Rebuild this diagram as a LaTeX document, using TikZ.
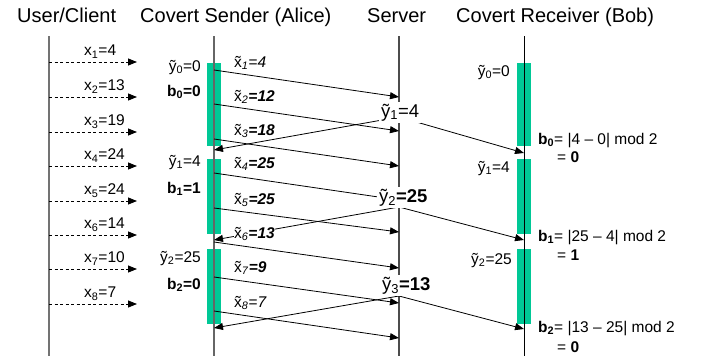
\documentclass[tikz,border=0pt]{standalone}
\usepackage{fontspec}
\setmainfont{Liberation Sans}
\usetikzlibrary{arrows.meta}
\definecolor{blockgreen}{RGB}{0,200,150}

\begin{document}
\begin{tikzpicture}[x=1pt, y=-1pt,
  life/.style={draw=black!60, line width=1.6pt},
  blk/.style={fill=blockgreen, draw=none},
  msg/.style={-{Triangle[length=9pt, width=7pt]}, line width=0.8pt},
  req/.style={msg, dash pattern=on 3pt off 2.5pt},
  t/.style={inner sep=0pt, font=\fontsize{15.5}{18}\selectfont},
  big/.style={inner sep=0pt, font=\fontsize{20}{24}\selectfont},
  srv/.style={fill=white, inner sep=2pt, font=\fontsize{18.5}{21}\selectfont}]
  \useasboundingbox (0,0) rectangle (709,356);

  % headings
  \node[big, anchor=base west] (huser)  at (17,23)  {User/Client};
  \node[big, anchor=base west] (halice) at (140,23) {Covert Sender (Alice)};
  \node[big, anchor=base west] (hsrv)   at (367,23) {Server};
  \node[big, anchor=base west] (hbob)   at (456,23) {Covert Receiver (Bob)};

  % green blocks
  \foreach \x in {207,517}
    \foreach \ya/\yb in {63/146, 159/234, 249/324}
      \fill[blk] (\x,\ya) rectangle (\x+14,\yb);

  % lifelines
  \coordinate (utop) at (49,36);   \coordinate (ubot) at (49,356);
  \coordinate (atop) at (214,36);  \coordinate (abot) at (214,356);
  \coordinate (stop) at (399,36);  \coordinate (sbot) at (399,356);
  \coordinate (btop) at (524,36);  \coordinate (bbot) at (524,356);
  \draw[life, line width=2pt, draw=black!55] (utop) -- (ubot);
  \draw[life] (atop) -- (abot);
  \draw[life, draw=black!70, line width=1.4pt] (stop) -- (sbot);
  \draw[line width=1pt] (btop) -- (bbot);

  % client requests
  \foreach \i/\y/\v in {1/62/4, 2/97/13, 3/132/19, 4/166/24,
                        5/201/24, 6/235/14, 7/269/10, 8/304/7} {
    \coordinate (c\i) at (49,\y);
    \coordinate (d\i) at (137,\y);
    \draw[req] (c\i) -- (d\i);
    \node[t, anchor=base west] (x\i) at (84,\y-6.5) {x\textsubscript{\i}=\v};
  }

  % delayed requests to the server
  \foreach \i/\ya/\ys in {1/70/97, 2/104/131, 3/139/166, 4/173/200,
                          5/208/232, 6/242/268, 7/277/303, 8/311/338} {
    \coordinate (a\i) at (214,\ya);
    \coordinate (s\i) at (399,\ys);
    \draw[msg] (a\i) -- (s\i);
  }

  % server responses
  \foreach \j/\ys/\ya/\yb in {1/117/150/153, 2/207/240/240, 3/296/328/329} {
    \coordinate (f\j) at (399,\ys);
    \coordinate (r\j) at (214,\ya);
    \coordinate (g\j) at (524,\yb);
    \draw[msg] (f\j) -- (r\j);
    \draw[msg] (f\j) -- (g\j);
  }

  % sender state
  \node[t, anchor=base east] (ay0) at (201,71)  {\~{y}\textsubscript{0}=0};
  \node[t, anchor=base east] (ab0) at (201,96)  {\textbf{b\textsubscript{0}=0}};
  \node[t, anchor=base east] (ay1) at (201,166) {\~{y}\textsubscript{1}=4};
  \node[t, anchor=base east] (ab1) at (201,193) {\textbf{b\textsubscript{1}=1}};
  \node[t, anchor=base east] (ay2) at (201,262) {\~{y}\textsubscript{2}=25};
  \node[t, anchor=base east] (ab2) at (201,289) {\textbf{b\textsubscript{2}=0}};

  % shaped values
  \node[t, anchor=base west] (xt1) at (234,67)  {\~{x}\textsubscript{\textit{1}}\textit{=4}};
  \node[t, anchor=base west] (xt2) at (234,101) {\~{x}\textsubscript{\textit{2}}\textbf{\textit{=12}}};
  \node[t, anchor=base west] (xt3) at (234,135) {\~{x}\textsubscript{\textit{3}}\textbf{\textit{=18}}};
  \node[t, anchor=base west] (xt4) at (234,168) {\~{x}\textsubscript{\textit{4}}\textbf{\textit{=25}}};
  \node[t, anchor=base west] (xt5) at (234,204) {\~{x}\textsubscript{\textit{5}}\textbf{\textit{=25}}};
  \node[t, anchor=base west, fill=white] (xt6) at (234,238) {\~{x}\textsubscript{\textit{6}}\textbf{\textit{=13}}\hspace{9pt}};
  \node[t, anchor=base west] (xt7) at (234,272) {\~{x}\textsubscript{\textit{7}}\textbf{\textit{=9}}};
  \node[t, anchor=base west] (xt8) at (234,307) {\~{x}\textsubscript{\textit{8}}\textit{=7}};

  % server outputs
  \node[srv, anchor=base west] (sy1) at (379,117) {\~{y}\textsubscript{1}=4};
  \node[srv, anchor=base west] (sy2) at (377,202) {\~{y}\textsubscript{2}\textbf{=25}};
  \node[srv, anchor=base west] (sy3) at (380,290) {\~{y}\textsubscript{3}\textbf{=13}};

  % receiver state
  \node[t, anchor=base east] (by0) at (510,76)  {\~{y}\textsubscript{0}=0};
  \node[t, anchor=base east] (by1) at (510,172) {\~{y}\textsubscript{1}=4};
  \node[t, anchor=base east] (by2) at (512,264) {\~{y}\textsubscript{2}=25};
  \node[t, anchor=base west] (bb0) at (538,144) {\textbf{b\textsubscript{0}}= |4 -- 0| mod 2};
  \node[t, anchor=base west] (be0) at (557,162) {= \textbf{0}};
  \node[t, anchor=base west] (bb1) at (538,241) {\textbf{b\textsubscript{1}}= |25 -- 4| mod 2};
  \node[t, anchor=base west] (be1) at (557,260) {= \textbf{1}};
  \node[t, anchor=base west] (bb2) at (538,332) {\textbf{b\textsubscript{2}}= |13 -- 25| mod 2};
  \node[t, anchor=base west] (be2) at (557,352) {= \textbf{0}};
\end{tikzpicture}
\end{document}
